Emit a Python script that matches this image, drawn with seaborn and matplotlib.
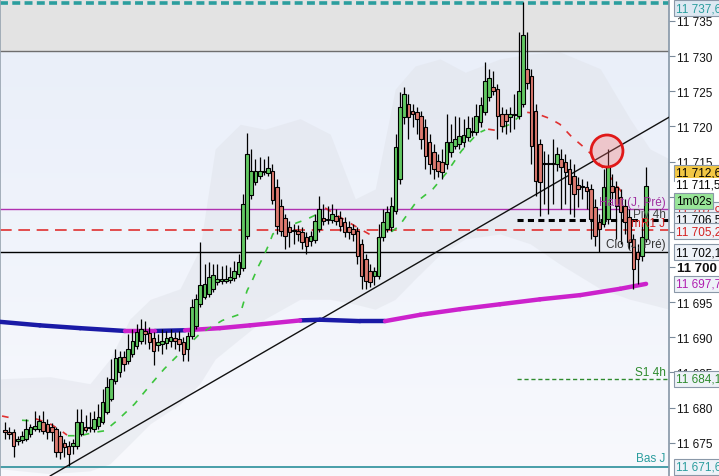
import numpy as np
import pandas as pd
import matplotlib
matplotlib.use("Agg")
import matplotlib.pyplot as plt
from matplotlib.patches import Ellipse
from matplotlib.colors import LinearSegmentedColormap
import seaborn as sns

# --- bougies (O, H, L, C) ---
opens = [11676.8, 11676.5, 11676.5, 11675.2, 11675.4, 11675.5, 11676.2, 11677.0, 11677.0, 11678.0,
         11677.7, 11677.2, 11677.0, 11676.0, 11674.9, 11674.5, 11674.5, 11674.5, 11676.2, 11677.2,
         11677.1, 11677.0, 11677.4, 11678.0, 11679.4, 11681.2, 11683.8, 11685.1, 11687.2, 11686.6,
         11687.6, 11688.8, 11689.5, 11690.9, 11690.6, 11689.9, 11688.9, 11689.0, 11689.2, 11689.5,
         11689.9, 11689.8, 11689.3, 11688.3, 11690.2, 11691.6, 11694.7, 11695.7, 11696.2, 11696.9,
         11697.9, 11698.0, 11698.0, 11698.2, 11698.4, 11699.0, 11699.9, 11704.4, 11710.2, 11712.1,
         11712.9, 11713.5, 11713.4, 11713.7, 11711.4, 11708.7, 11707.0, 11705.7, 11705.1, 11705.1,
         11705.0, 11704.3, 11703.7, 11703.8, 11705.4, 11707.0, 11706.7, 11706.7, 11707.3, 11707.0,
         11706.4, 11705.7, 11705.4, 11705.1, 11703.3, 11701.1, 11699.4, 11698.7, 11698.7, 11704.3,
         11705.4, 11705.7, 11708.0, 11712.5, 11721.3, 11723.2, 11722.2, 11722.0, 11721.5, 11719.9,
         11717.8, 11716.4, 11715.1, 11714.9, 11714.7, 11716.4, 11717.2, 11717.5, 11717.8, 11718.5,
         11719.2, 11719.2, 11720.6, 11722.0, 11724.2, 11725.6, 11725.3, 11721.8, 11721.8, 11721.3,
         11721.6, 11721.5, 11723.2, 11728.2, 11727.2, 11722.2, 11717.5, 11714.7, 11714.7, 11714.7,
         11714.7, 11715.4, 11714.9, 11713.9, 11712.9, 11711.7, 11711.4, 11711.4, 11711.1, 11708.5,
         11706.4, 11706.1, 11706.8, 11711.5, 11711.4, 11710.0, 11708.7, 11707.1, 11704.0, 11702.1,
         11701.6, 11704.0]
highs = [11678.0, 11677.2, 11677.0, 11676.0, 11676.6, 11678.4, 11677.7, 11679.5, 11679.0, 11679.5,
         11678.4, 11677.8, 11677.3, 11676.7, 11675.5, 11675.2, 11675.5, 11679.8, 11679.8, 11678.9,
         11679.4, 11679.5, 11680.5, 11682.6, 11684.4, 11686.9, 11688.3, 11688.1, 11688.1, 11690.5,
         11691.2, 11691.9, 11692.6, 11692.3, 11691.5, 11690.8, 11690.5, 11691.2, 11690.9, 11691.2,
         11690.8, 11690.9, 11690.0, 11690.8, 11695.4, 11696.2, 11703.6, 11700.4, 11700.7, 11700.4,
         11700.4, 11700.1, 11700.3, 11700.0, 11700.9, 11701.8, 11710.4, 11719.1, 11716.8, 11715.4,
         11715.6, 11715.4, 11715.8, 11714.7, 11712.5, 11709.7, 11707.5, 11706.5, 11706.1, 11706.0,
         11705.7, 11705.0, 11705.1, 11707.5, 11710.1, 11709.0, 11708.7, 11709.0, 11708.3, 11708.0,
         11707.1, 11706.5, 11706.1, 11705.7, 11704.0, 11701.8, 11700.4, 11700.0, 11706.1, 11708.3,
         11708.7, 11710.0, 11718.9, 11724.9, 11725.6, 11724.6, 11723.2, 11722.8, 11722.2, 11721.1,
         11718.9, 11717.5, 11716.1, 11716.8, 11721.8, 11720.4, 11721.5, 11721.3, 11721.1, 11721.5,
         11721.3, 11723.2, 11724.2, 11729.2, 11728.2, 11727.9, 11726.0, 11722.8, 11722.5, 11722.8,
         11724.6, 11733.4, 11737.7, 11733.4, 11728.2, 11723.2, 11718.2, 11716.5, 11716.1, 11718.2,
         11717.1, 11716.8, 11716.1, 11715.4, 11714.7, 11712.8, 11712.5, 11712.2, 11711.8, 11709.7,
         11707.5, 11713.9, 11716.8, 11713.2, 11712.2, 11711.1, 11709.7, 11708.3, 11704.7, 11703.3,
         11706.1, 11714.2]
lows = [11675.5, 11675.5, 11673.0, 11674.7, 11675.0, 11675.2, 11675.8, 11676.7, 11676.5, 11676.2,
        11675.5, 11675.2, 11673.0, 11672.7, 11673.0, 11671.7, 11673.4, 11674.1, 11676.0, 11676.5,
        11676.5, 11676.5, 11677.0, 11677.7, 11679.1, 11680.9, 11683.4, 11684.4, 11685.2, 11686.2,
        11687.2, 11688.3, 11689.0, 11689.0, 11688.3, 11686.1, 11688.1, 11687.6, 11688.3, 11688.6,
        11688.3, 11688.1, 11686.6, 11686.6, 11689.8, 11691.2, 11694.3, 11695.4, 11695.7, 11696.4,
        11697.4, 11697.6, 11697.7, 11697.7, 11698.0, 11698.6, 11699.4, 11704.0, 11709.7, 11711.7,
        11712.5, 11713.1, 11712.9, 11709.0, 11704.7, 11704.4, 11702.6, 11702.8, 11703.3, 11703.7,
        11702.6, 11701.8, 11703.0, 11703.4, 11705.0, 11706.0, 11706.1, 11706.3, 11706.0, 11705.1,
        11704.3, 11704.0, 11703.7, 11700.4, 11696.9, 11696.9, 11697.2, 11697.4, 11698.3, 11703.7,
        11705.0, 11705.1, 11707.5, 11711.8, 11720.3, 11718.2, 11719.9, 11718.9, 11716.8, 11713.9,
        11713.2, 11712.5, 11712.8, 11712.5, 11713.9, 11715.6, 11716.8, 11716.8, 11717.1, 11717.9,
        11718.6, 11718.8, 11719.9, 11721.6, 11723.6, 11724.5, 11718.2, 11719.2, 11718.9, 11719.2,
        11719.6, 11721.1, 11722.8, 11725.3, 11714.7, 11710.1, 11707.3, 11709.0, 11707.5, 11709.0,
        11713.7, 11708.3, 11709.0, 11707.5, 11707.1, 11708.5, 11709.7, 11708.3, 11704.0, 11703.0,
        11702.1, 11705.7, 11706.1, 11709.7, 11704.0, 11703.3, 11704.7, 11702.6, 11696.9, 11697.6,
        11700.8, 11703.6]
closes = [11676.5, 11676.2, 11674.5, 11675.5, 11676.0, 11677.0, 11677.2, 11677.4, 11678.1, 11676.7,
          11676.5, 11676.5, 11673.7, 11673.7, 11674.4, 11673.4, 11675.0, 11678.0, 11678.0, 11676.8,
          11677.1, 11678.4, 11678.7, 11680.8, 11682.9, 11684.1, 11687.0, 11687.2, 11686.2, 11688.3,
          11689.5, 11690.8, 11691.2, 11690.5, 11689.3, 11688.1, 11689.3, 11689.5, 11689.9, 11690.0,
          11689.5, 11689.0, 11687.6, 11690.2, 11694.3, 11695.4, 11697.4, 11697.6, 11698.6, 11698.9,
          11698.3, 11698.3, 11698.3, 11698.6, 11699.4, 11700.7, 11709.0, 11716.1, 11713.7, 11713.7,
          11713.7, 11713.5, 11714.1, 11709.5, 11705.8, 11705.1, 11704.4, 11705.0, 11705.1, 11704.7,
          11703.6, 11703.0, 11704.4, 11706.5, 11708.3, 11706.5, 11706.7, 11707.5, 11706.5, 11705.8,
          11705.0, 11705.0, 11704.7, 11701.6, 11698.7, 11698.0, 11697.9, 11699.4, 11704.3, 11706.4,
          11707.8, 11708.7, 11717.1, 11722.8, 11724.6, 11721.3, 11721.8, 11721.1, 11718.2, 11715.8,
          11714.7, 11713.9, 11713.7, 11713.5, 11717.8, 11717.8, 11718.2, 11718.6, 11718.8, 11719.8,
          11719.3, 11721.5, 11723.0, 11726.5, 11726.9, 11725.0, 11721.5, 11720.1, 11720.8, 11721.8,
          11721.8, 11725.0, 11733.0, 11726.2, 11717.2, 11712.2, 11712.1, 11714.7, 11714.7, 11714.7,
          11716.1, 11714.2, 11713.5, 11711.8, 11710.4, 11711.1, 11711.4, 11710.8, 11706.8, 11704.4,
          11705.4, 11711.4, 11714.2, 11710.7, 11708.7, 11707.8, 11706.4, 11703.6, 11699.7, 11701.1,
          11704.3, 11711.5]

# --- moyenne mobile (points, tendance par segment) ---
ma_idx = [-1.2, 8.2, 17.7, 28.3, 35.3, 42.4, 50.6, 57.7, 69.5, 74.2, 83.6, 89.5,
          97.8, 107.2, 116.6, 126.0, 135.5, 144.9, 151.0]
ma_val = [11692.2, 11691.7, 11691.3, 11690.9, 11690.9, 11691.0, 11691.3, 11691.7, 11692.4,
          11692.5, 11692.3, 11692.3, 11693.2, 11694.0, 11694.7, 11695.4, 11696.0, 11696.9, 11697.6]
ma_trend = ['down', 'down', 'down', 'up', 'down', 'up', 'up', 'up', 'down', 'down', 'down',
            'up', 'up', 'up', 'up', 'up', 'up', 'up']

# --- stop suiveur pointillé ---
nan = np.nan
green_idx = [4.0, 6.6, nan, 14.8, 17.7, 21.2, 23.5, 26.5, 30.5, 34.2, 37.5, 41.8, 45.9, 51.2, 55.4,
             57.0, 58.4, 59.6, 60.8, 62.0, 63.1, 66.4, 68.8, 71.1, 73.5, nan, 87.9, 90.3, 92.8,
             96.8, 100.8, 104.0, 107.5, 111.3, 113.1, nan, 117.3, 119.0, 121.3, 123.0]
green_val = [11678.2, 11678.1, nan, 11676.0, 11676.0, 11676.5, 11676.7, 11678.2, 11680.5, 11683.2,
             11685.5, 11688.1, 11690.5, 11692.4, 11693.3, 11696.6, 11698.3, 11700.0, 11701.4,
             11703.0, 11704.7, 11705.7, 11706.3, 11706.8, 11707.5, nan, 11704.0, 11704.7, 11705.8,
             11709.2, 11711.1, 11713.4, 11716.5, 11719.0, 11719.5, nan, 11719.9, 11720.3, 11721.5,
             11722.0]
red_idx = [-0.7, 1.7, nan, 7.3, 10.6, 13.0, 14.6, nan, 75.4, 78.9, 82.5, 86.0, 87.9, nan,
           113.8, 117.1, nan, 123.0, 125.3, 128.4, 130.7, 133.5, 137.2, 141.0, 145.6]
red_val = [11678.8, 11678.5, nan, 11678.4, 11677.7, 11676.8, 11676.1, nan, 11708.4, 11707.1,
           11705.8, 11704.6, 11704.0, nan, 11719.6, 11719.3, nan, 11722.0, 11721.8, 11721.1,
           11720.3, 11718.5, 11716.6, 11714.0, 11710.4]

# --- nuage (enveloppe) ---
cloud_idx = [-1.2, 10.6, 20.0, 24.7, 29.4, 34.2, 41.2, 45.9, 49.5, 55.4, 61.2, 69.5, 76.6, 82.5,
             87.2, 91.9, 96.6, 102.5, 108.4, 116.6, 123.7, 130.7, 140.2, 147.2, 151.9, 156.4]
cloud_hi = [11684.1, 11684.4, 11683.4, 11686.9, 11692.6, 11695.4, 11696.9, 11702.6, 11716.8,
            11720.3, 11719.6, 11721.1, 11718.9, 11709.7, 11711.1, 11725.3, 11728.6, 11729.6,
            11727.7, 11729.6, 11730.3, 11730.6, 11728.2, 11721.1, 11716.8, 11715.4]
cloud_lo = [11671.3, 11670.6, 11671.0, 11672.0, 11674.8, 11677.7, 11680.5, 11683.4, 11686.9,
            11689.8, 11692.6, 11695.4, 11695.4, 11694.7, 11694.0, 11695.4, 11698.3, 11701.8,
            11704.0, 11704.7, 11703.3, 11700.4, 11696.9, 11695.4, 11694.7, 11694.0]

# --- niveaux ---
haut_j = 11708.3
piv_4h = 11706.7
r1_j = 11705.3
clo_j = 11702.1
s1_4h = 11684.1
bas_j = 11671.6
top_level = 11737.6
band_low = 11730.7
trend_start = (10.6, 11670.27)
trend_end = (156.4, 11721.3)
circle_center = (141.8, 11716.5)

# --- étiquettes de droite ---
right_labels = [("11 737,6", 11736.8, '#2a9d9d', '#dde8f2'),
                ("11 712,6", 11713.4, 'black', '#f2c744'),
                ("11 711,5", 11711.7, 'black', None),
                ("11 707,9", 11708.1, '#d42020', '#eef2f8'),
                ("1m02s", 11709.4, 'black', '#98e598'),
                ("11 706,5", 11706.7, 'black', '#eef2f8'),
                ("11 705,2", 11705.1, '#d42020', '#eef2f8'),
                ("11 702,1", 11702.1, 'black', '#eef2f8'),
                ("11 697,7", 11697.6, '#b020b0', '#eef2f8'),
                ("11 684,1", 11684.1, '#2e8b2e', '#eef2f8'),
                ("11 671,6", 11671.6, '#2a9d9d', '#eef2f8')]

sns.set_theme(style="white")
plt.rcParams['font.family'] = ['Liberation Sans', 'DejaVu Sans']

fig = plt.figure(figsize=(7.19, 4.77), dpi=100)
ax = fig.add_axes([0, 0, 669 / 719, 1])
xmin, xmax = -1.18, 156.4
ymin, ymax = 11670.27, 11738.12

# fond dégradé
grad = np.linspace(0, 1, 200).reshape(-1, 1)
cmap = LinearSegmentedColormap.from_list("bg", ['#f8f9fd', '#e8eef9'])
ax.imshow(grad, extent=[xmin, xmax, ymax, ymin], aspect='auto', cmap=cmap, zorder=0)

ax.fill_between(cloud_idx, cloud_lo, cloud_hi, color='#dfe2e9', alpha=0.45, lw=0, zorder=0.5)
ax.axhspan(band_low, ymax + 5, color='#e3e3e3', zorder=0.8, lw=0)
ax.axhline(band_low, color='#6e6e6e', lw=1.0, zorder=1)

# niveaux horizontaux
ax.axhline(top_level, color='#2b9e9e', lw=2.6, linestyle=(0, (2.2, 1.2)), zorder=2)
ax.axhline(haut_j, color='#b030b0', lw=1.0, zorder=2)
ax.axhline(r1_j, color='#e03030', lw=1.2, linestyle=(0, (7, 4)), zorder=2)
ax.axhline(clo_j, color='black', lw=1.0, zorder=2)
ax.axhline(bas_j, color='#2a8f9a', lw=1.2, zorder=2)
ax.hlines(piv_4h, 120.6, xmax, color='black', lw=2.2, linestyles=[(0, (2, 1.4))], zorder=2)
ax.hlines(s1_4h, 120.6, xmax, color='#2e8b2e', lw=1.0, linestyles=[(0, (3, 2))], zorder=2)

# droite de tendance
ax.plot([trend_start[0], trend_end[0]], [trend_start[1], trend_end[1]], color='#111111', lw=1.0, zorder=3)

# moyenne mobile
rows = []
for k, tr in enumerate(ma_trend):
    rows.append((k, ma_idx[k], ma_val[k], tr))
    rows.append((k, ma_idx[k + 1], ma_val[k + 1], tr))
ma_df = pd.DataFrame(rows, columns=['seg', 'idx', 'val', 'trend'])
sns.lineplot(data=ma_df, x='idx', y='val', hue='trend', units='seg', estimator=None, sort=False,
             palette={'up': '#cc22cc', 'down': '#1a1aa6'}, lw=3.2, legend=False, ax=ax, zorder=3)

# stop suiveur
ax.plot(green_idx, green_val, color='#3cc43c', lw=1.2, linestyle=(0, (4, 5)), zorder=3.5)
ax.plot(red_idx, red_val, color='#e03030', lw=1.2, linestyle=(0, (4, 5)), zorder=3.5)

# bougies
o = np.array(opens); c = np.array(closes)
x = np.arange(len(o))
ax.vlines(x, lows, highs, color='black', lw=0.9, zorder=4)
body = np.where(np.abs(c - o) < 0.1, 0.1, c - o)
cols = np.where(c > o, '#62c862', np.where(c < o, '#de7a70', '#333333'))
ax.bar(x, body, bottom=o, width=0.85, color=cols, edgecolor='black', linewidth=0.8, zorder=5)

# cercle rouge
ax.add_patch(Ellipse(circle_center, 7.5, 4.55, fc=(1, 0.45, 0.45, 0.3), ec='#e01818', lw=2, zorder=6))

# textes internes
inner = [("Haut (J, Pré)", 11709.2, '#a030a0'), ("Piv 4h", 11707.6, '#444444'),
         ("mR1 J", 11706.2, '#d42020'), ("Clo (J, Pré)", 11703.2, '#333333'),
         ("S1 4h", 11685.1, '#2e8b2e'), ("Bas J", 11672.8, '#2a9d9d')]
for txt, yv, col in inner:
    ax.text(155.6, yv, txt, color=col, fontsize=8.5, ha='right', va='center', zorder=7)

ax.set_xlim(xmin, xmax)
ax.set_ylim(ymin, ymax)
ax.set_xticks([])
ax.yaxis.tick_right()
ticks = list(range(11675, 11740, 5))
ax.set_yticks(ticks)
ax.set_yticklabels([f"{t:,}".replace(",", " ") for t in ticks])
ax.tick_params(axis='y', which='both', right=True, length=4, width=0.8, color='#7a8a9a',
               labelsize=8.5, pad=2, labelcolor='#111111')
for lab in ax.get_yticklabels():
    if lab.get_text() == "11 700":
        lab.set_fontweight('bold')
        lab.set_fontsize(9.5)
    if lab.get_text() in ("11 705", "11 710"):
        lab.set_visible(False)  # masqués par les étiquettes de niveaux
for s in ['top', 'bottom']:
    ax.spines[s].set_visible(False)
ax.spines['right'].set_color('#8a9aaa')
ax.spines['left'].set_color('#9aa6b2')
ax.grid(False)

trans = ax.get_yaxis_transform()
for txt, yv, col, fc in right_labels:
    kw = dict(color=col, fontsize=8.5, ha='left', va='center', transform=trans,
              clip_on=False, zorder=10)
    if fc is not None:
        kw['bbox'] = dict(boxstyle='square,pad=0.18', fc=fc, ec='#8a98a8', lw=0.8)
    else:
        kw['bbox'] = dict(boxstyle='square,pad=0.1', fc='white', ec='none')
    ax.text(1.01, yv, txt, **kw)

fig.savefig("out.png", dpi=100, facecolor='white')
